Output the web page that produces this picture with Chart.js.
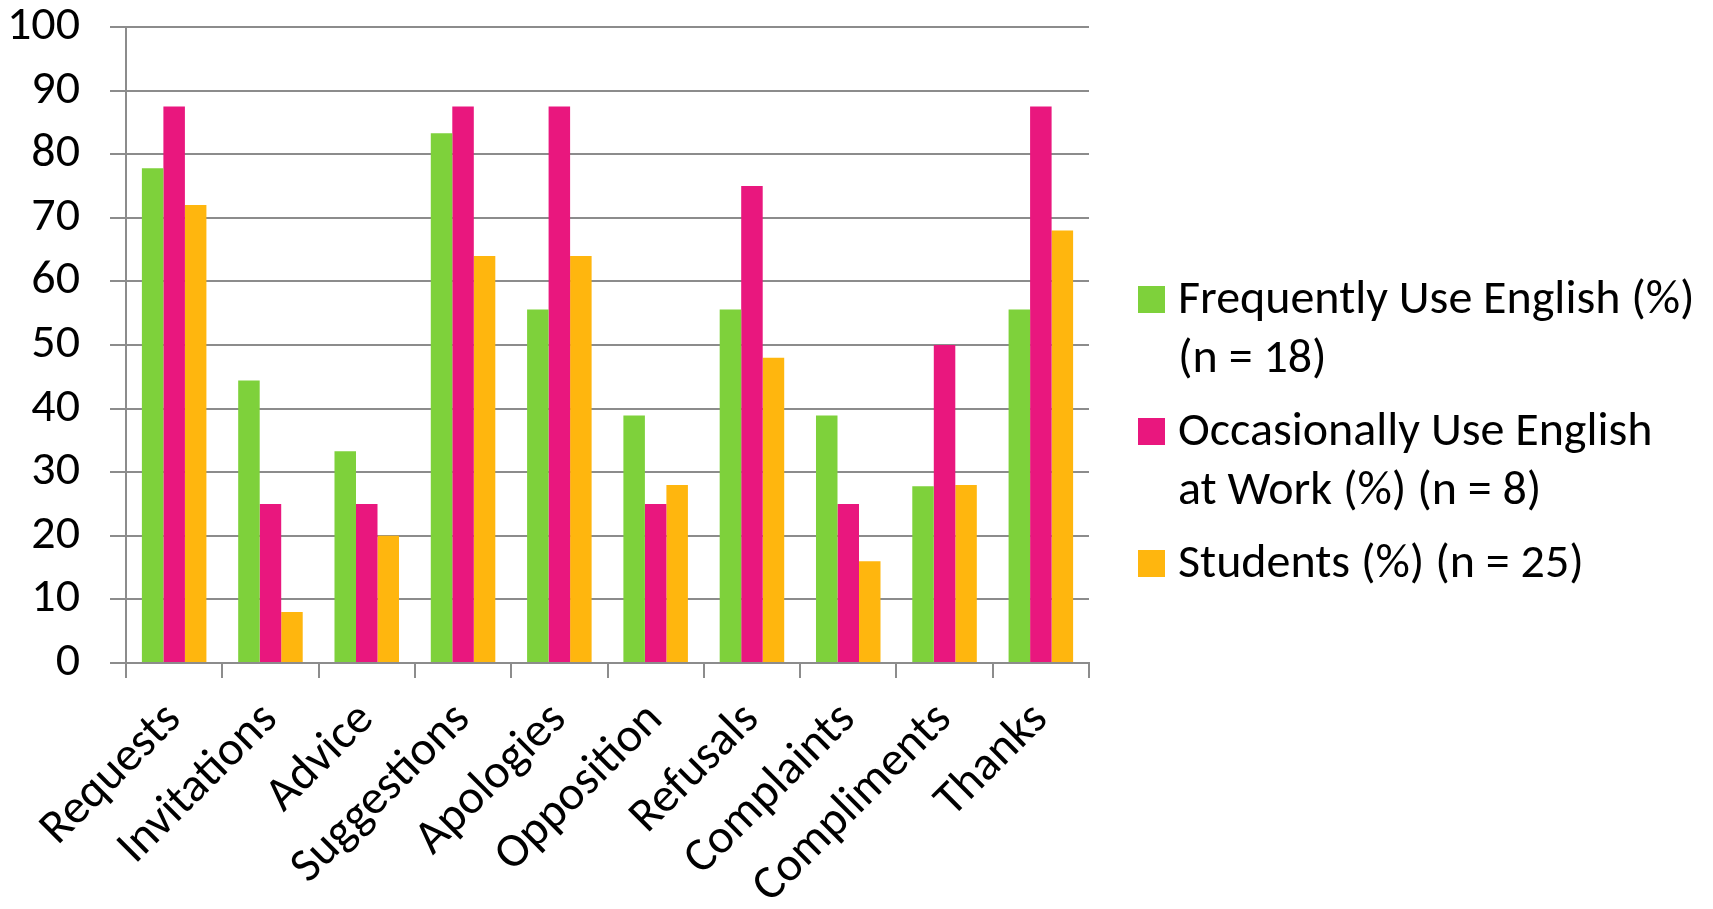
<!DOCTYPE html>
<html>
<head>
<meta charset="utf-8">
<script src="https://cdn.jsdelivr.net/npm/chart.js@4.4.1/dist/chart.umd.min.js"></script>
<style>
  html, body { margin: 0; padding: 0; background: #fff; }
  #wrap { position: relative; width: 1713px; height: 909px; }
  #legend { position: absolute; left: 1138px; top: 0; font-family: Carlito, Lato, sans-serif; font-size: 48px; color: #000; }
  .item { position: absolute; left: 0; white-space: nowrap; }
  .box { position: absolute; left: 0; width: 27px; height: 27px; }
  .txt { position: absolute; left: 40px; top: 0; line-height: 59px; }
</style>
</head>
<body>
<div id="wrap">
  <canvas id="chart" width="1713" height="909"></canvas>
  <div id="legend"></div>
</div>
<script>
// categories and series (percent of respondents)
const categories = ['Requests', 'Invitations', 'Advice', 'Suggestions', 'Apologies',
                    'Opposition', 'Refusals', 'Complaints', 'Compliments', 'Thanks'];
const frequentUse = [77.8, 44.4, 33.3, 83.3, 55.6, 38.9, 55.6, 38.9, 27.8, 55.6];
const occasionalUse = [87.5, 25, 25, 87.5, 87.5, 25, 75, 25, 50, 87.5];
const students = [72, 8, 20, 64, 64, 28, 48, 16, 28, 68];
const seriesNames = [
  ['Frequently Use English (%)', '(n = 18)'],
  ['Occasionally Use English', 'at Work (%) (n = 8)'],
  ['Students (%) (n = 25)']
];
const colors = ['#7ed13b', '#e9177e', '#ffb60e'];

const FONT = 'Carlito, Lato, sans-serif';
const gridColor = '#8c8c8c';

// keep the plot area where the original has it
function noPad(scale) {
    scale.paddingTop = 0;
    scale.paddingBottom = 0;
    scale.paddingLeft = 0;
    scale.paddingRight = 0;
}

const ctx = document.getElementById('chart');
new Chart(ctx, {
    type: 'bar',
    data: {
        labels: categories,
        datasets: [frequentUse, occasionalUse, students].map((d, i) => ({
            label: seriesNames[i].join(' '),
            data: d,
            backgroundColor: colors[i],
            borderWidth: 0,
            barPercentage: 1,
            categoryPercentage: 0.67
        }))
    },
    options: {
        responsive: false,
        animation: false,
        devicePixelRatio: 1,
        layout: {
            padding: { top: 27, right: 624, left: 0, bottom: 0 }
        },
        plugins: {
            legend: { display: false },
            tooltip: { enabled: false }
        },
        scales: {
            x: {
                grid: {
                    offset: true,
                    drawOnChartArea: false,
                    drawTicks: true,
                    tickLength: 15,
                    color: gridColor,
                    lineWidth: 2
                },
                border: { color: gridColor, width: 2 },
                ticks: {
                    autoSkip: false,
                    minRotation: 45,
                    maxRotation: 45,
                    padding: 14,
                    color: '#000',
                    font: { family: FONT, size: 48 }
                },
                afterFit: (scale) => { scale.height = 246; noPad(scale); }
            },
            y: {
                min: 0,
                max: 100,
                ticks: {
                    stepSize: 10,
                    padding: 30,
                    color: '#000',
                    font: { family: FONT, size: 48 }
                },
                grid: {
                    color: gridColor,
                    lineWidth: 2,
                    tickLength: 16
                },
                border: { color: gridColor, width: 2 },
                afterFit: (scale) => { scale.width = 126; noPad(scale); }
            }
        }
    }
});

// legend, drawn as html so the labels can wrap like the original
const legendTops = [267, 399, 531];
const legend = document.getElementById('legend');
seriesNames.forEach((lines, i) => {
    const item = document.createElement('div');
    item.className = 'item';
    item.style.top = legendTops[i] + 'px';
    const box = document.createElement('span');
    box.className = 'box';
    box.style.background = colors[i];
    box.style.top = '19px';
    const txt = document.createElement('span');
    txt.className = 'txt';
    txt.innerHTML = lines.join('<br>');
    item.appendChild(box);
    item.appendChild(txt);
    legend.appendChild(item);
});
</script>
</body>
</html>
